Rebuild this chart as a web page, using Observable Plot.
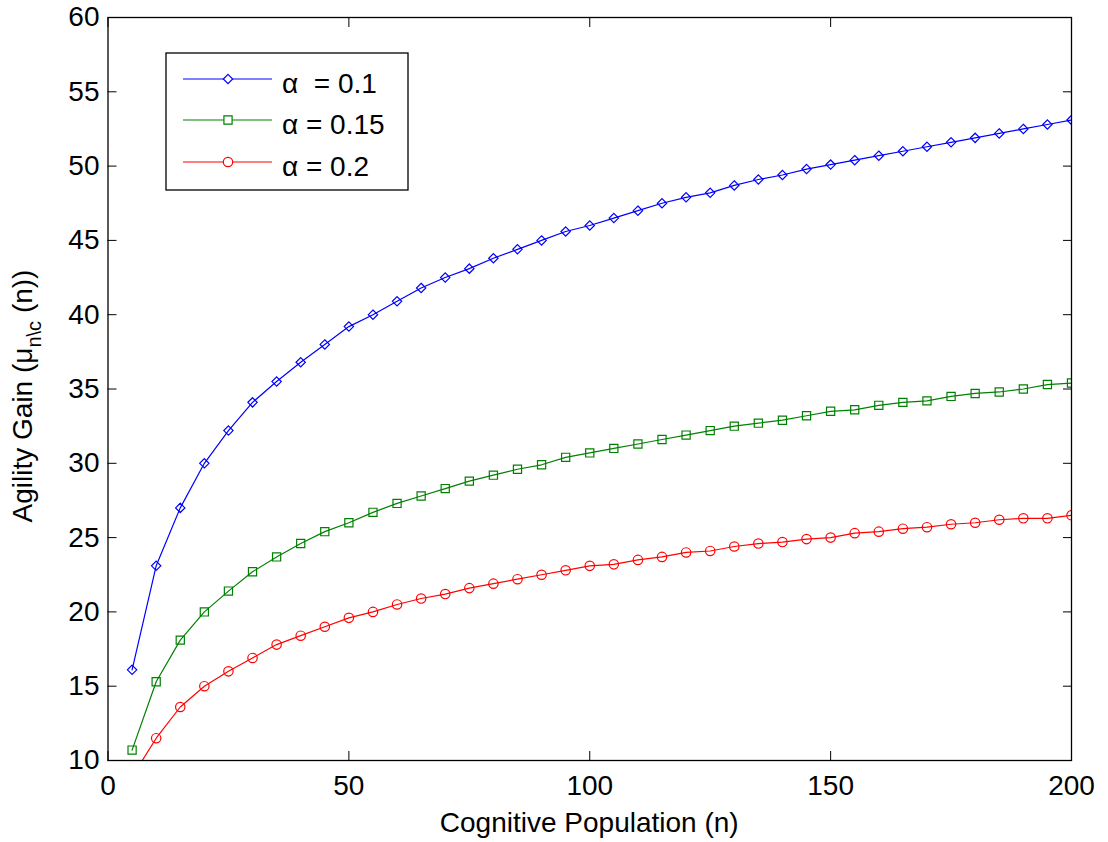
<!DOCTYPE html>
<html>
<head>
<meta charset="utf-8">
<script src="https://cdn.jsdelivr.net/npm/d3@7"></script>
<script src="https://cdn.jsdelivr.net/npm/@observablehq/plot@0.6"></script>
<style>
  body { margin: 0; background: #fff; }
  svg { display: block; }
</style>
</head>
<body>
<div id="chart"></div>
<script>
// ---- data ----
const population = [5, 10, 15, 20, 25, 30, 35, 40, 45, 50, 55, 60, 65, 70, 75, 80, 85, 90, 95, 100,
  105, 110, 115, 120, 125, 130, 135, 140, 145, 150, 155, 160, 165, 170, 175, 180, 185, 190, 195, 200];
const gainAlpha010 = [16.1, 23.1, 27.0, 30.0, 32.2, 34.1, 35.5, 36.8, 38.0, 39.2, 40.0, 40.9, 41.8, 42.5, 43.1, 43.8, 44.4, 45.0, 45.6, 46.0,
  46.5, 47.0, 47.5, 47.9, 48.2, 48.7, 49.1, 49.4, 49.8, 50.1, 50.4, 50.7, 51.0, 51.3, 51.6, 51.9, 52.2, 52.5, 52.8, 53.1];
const gainAlpha015 = [10.7, 15.3, 18.1, 20.0, 21.4, 22.7, 23.7, 24.6, 25.4, 26.0, 26.7, 27.3, 27.8, 28.3, 28.8, 29.2, 29.6, 29.9, 30.4, 30.7,
  31.0, 31.3, 31.6, 31.9, 32.2, 32.5, 32.7, 32.9, 33.2, 33.5, 33.6, 33.9, 34.1, 34.2, 34.5, 34.7, 34.8, 35.0, 35.3, 35.4];
const gainAlpha020 = [8.9, 11.5, 13.6, 15.0, 16.0, 16.9, 17.8, 18.4, 19.0, 19.6, 20.0, 20.5, 20.9, 21.2, 21.6, 21.9, 22.2, 22.5, 22.8, 23.1,
  23.2, 23.5, 23.7, 24.0, 24.1, 24.4, 24.6, 24.7, 24.9, 25.0, 25.3, 25.4, 25.6, 25.7, 25.9, 26.0, 26.2, 26.3, 26.3, 26.5];
const seriesLabels = ["α  = 0.1", "α = 0.15", "α = 0.2"];
const seriesColors = ["#0000ff", "#008000", "#ff0000"];
const seriesSymbols = ["diamond2", "square2", "circle"];
const seriesRadius = [4.2, 5.2, 4.7];
const xTicks = [0, 50, 100, 150, 200];
const yTicks = [10, 15, 20, 25, 30, 35, 40, 45, 50, 55, 60];
const xLabel = "Cognitive Population (n)";

const seriesValues = [gainAlpha010, gainAlpha015, gainAlpha020];
const series = seriesValues.map((vals, i) =>
  population.map((p, j) => ({n: p, gain: vals[j], label: seriesLabels[i]})));

const FONT = "'Liberation Sans', Arial, Helvetica, sans-serif";
const W = 1108, H = 842;
const mL = 107.5, mR = 37, mT = 17, mB = 82;

const marks = [
  Plot.axisX({ticks: xTicks, tickSize: -9, tickPadding: 24, label: null, fontSize: 28}),
  Plot.axisX({anchor: "top", ticks: xTicks, tickSize: -9, fill: "none", label: null}),
  Plot.axisY({ticks: yTicks, tickSize: -9, tickPadding: 17.5, label: null, fontSize: 28}),
  Plot.axisY({anchor: "right", ticks: yTicks, tickSize: -9, fill: "none", label: null}),
];
series.forEach((rows, i) => {
  marks.push(Plot.line(rows, {x: "n", y: "gain", stroke: seriesColors[i], strokeWidth: 1.2, clip: true}));
  marks.push(Plot.dot(rows, {x: "n", y: "gain", symbol: seriesSymbols[i], r: seriesRadius[i],
    stroke: seriesColors[i], fill: "none", strokeWidth: 1.2, clip: true}));
});
marks.push(Plot.frame({stroke: "black", strokeWidth: 1.3}));

const chart = Plot.plot({
  width: W, height: H,
  marginLeft: mL, marginRight: mR, marginTop: mT, marginBottom: mB,
  x: {domain: [0, 200]},
  y: {domain: [10, 60]},
  style: {fontFamily: FONT, fontSize: "28px", color: "black", background: "white", overflow: "visible"},
  marks
});
document.getElementById("chart").appendChild(chart);

const svg = d3.select(chart);

// x axis label
svg.append("text")
  .attr("x", (mL + (W - mR)) / 2).attr("y", 832)
  .attr("text-anchor", "middle")
  .style("font-family", FONT).style("font-size", "28px").attr("fill", "black")
  .text(xLabel);

// y axis label with subscript
const yl = svg.append("text")
  .attr("transform", "translate(32,396) rotate(-90)")
  .attr("text-anchor", "middle")
  .style("font-family", FONT).style("font-size", "28px").attr("fill", "black");
yl.append("tspan").text("Agility Gain (μ");
yl.append("tspan").attr("dy", 9).style("font-size", "20px").text("n\\c");
yl.append("tspan").attr("dy", -9).text(" (n))");

// legend
const lg = svg.append("g");
lg.append("rect").attr("x", 166).attr("y", 53).attr("width", 242).attr("height", 137)
  .attr("fill", "white").attr("stroke", "black").attr("stroke-width", 1.3);
const rowY = [79, 120, 162];
const symMap = {diamond2: d3.symbolDiamond2, square2: d3.symbolSquare2, circle: d3.symbolCircle};
seriesLabels.forEach((lab, i) => {
  const y = rowY[i];
  lg.append("line").attr("x1", 183).attr("x2", 272).attr("y1", y).attr("y2", y)
    .attr("stroke", seriesColors[i]).attr("stroke-width", 1.2);
  lg.append("path")
    .attr("d", d3.symbol(symMap[seriesSymbols[i]], Math.PI * seriesRadius[i] ** 2)())
    .attr("transform", `translate(228,${y})`)
    .attr("fill", "white").attr("stroke", seriesColors[i]).attr("stroke-width", 1.2);
  lg.append("text").attr("x", 282).attr("y", y + 14)
    .attr("text-anchor", "start")
    .style("font-family", FONT).style("font-size", "28px").style("white-space", "pre")
    .attr("fill", "black").text(lab);
});
</script>
</body>
</html>
